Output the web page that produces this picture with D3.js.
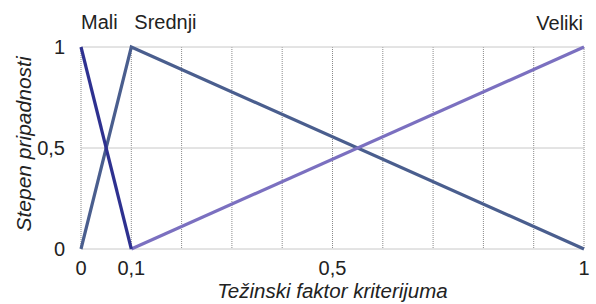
<!DOCTYPE html>
<html>
<head>
<meta charset="utf-8">
<script src="https://cdn.jsdelivr.net/npm/d3@7"></script>
<style>
  body { margin: 0; background: #fff; }
  text { font-family: "Liberation Sans", Arial, sans-serif; fill: #222; }
</style>
</head>
<body>
<div id="chart"></div>
<script>
// membership functions: Mali, Srednji, Veliki
const mali    = [{x: 0, y: 1}, {x: 0.1, y: 0}];
const srednji = [{x: 0, y: 0}, {x: 0.1, y: 1}, {x: 1, y: 0}];
const veliki  = [{x: 0.1, y: 0}, {x: 1, y: 1}];

const xTicks = [0, 0.1, 0.5, 1];
const yTicks = [0, 0.5, 1];
const gridX  = d3.range(0, 11).map(i => i / 10);

const outerW = 596, outerH = 304;
const margin = { left: 81, right: 12, top: 47, bottom: 55 };
const width  = outerW - margin.left - margin.right;
const height = outerH - margin.top - margin.bottom;

const svg = d3.select("#chart").append("svg")
  .attr("width", outerW).attr("height", outerH);

const g = svg.append("g").attr("transform", `translate(${margin.left},${margin.top})`);

const x = d3.scaleLinear().domain([0, 1]).range([0, width]);
const y = d3.scaleLinear().domain([0, 1]).range([height, 0]);

const fmt = d => String(d).replace(".", ",");

// grid
g.selectAll("line.gx").data(gridX).join("line")
  .attr("x1", d => x(d)).attr("x2", d => x(d))
  .attr("y1", 0).attr("y2", height)
  .attr("stroke", "#8a8a8a").attr("stroke-width", 1)
  .attr("stroke-dasharray", "1,1");

g.selectAll("line.gy").data(yTicks).join("line")
  .attr("x1", 0).attr("x2", width)
  .attr("y1", d => y(d)).attr("y2", d => y(d))
  .attr("stroke", "#c8c8c8").attr("stroke-width", 1);

// axis tick labels
g.selectAll("text.yt").data(yTicks).join("text")
  .attr("x", -16).attr("y", d => y(d) + 7)
  .attr("text-anchor", "end")
  .style("font-size", "20px")
  .text(fmt);

g.selectAll("text.xt").data(xTicks).join("text")
  .attr("x", d => x(d)).attr("y", height + 26)
  .attr("text-anchor", "middle")
  .style("font-size", "20px")
  .text(fmt);

// axis titles
g.append("text")
  .attr("x", width / 2).attr("y", height + 49)
  .attr("text-anchor", "middle")
  .style("font-size", "20.5px").style("font-style", "italic")
  .text("Težinski faktor kriterijuma");

g.append("text")
  .attr("transform", "rotate(-90)")
  .attr("x", -height / 2 + 4).attr("y", -50)
  .attr("text-anchor", "middle")
  .style("font-size", "21px").style("font-style", "italic")
  .text("Stepen pripadnosti");

// lines
const line = d3.line().x(d => x(d.x)).y(d => y(d.y));
const series = [
  { name: "Srednji", values: srednji, color: "#4a5e8e" },
  { name: "Veliki",  values: veliki,  color: "#7b70c0" },
  { name: "Mali",    values: mali,    color: "#2e3190" }
];

g.selectAll("path.series").data(series).join("path")
  .attr("fill", "none")
  .attr("stroke", d => d.color)
  .attr("stroke-width", 3.2)
  .attr("d", d => line(d.values));

// series labels
g.append("text").attr("x", x(0)).attr("y", -18)
  .style("font-size", "20px").text("Mali");
g.append("text").attr("x", x(0.1) + 3).attr("y", -18)
  .style("font-size", "20px").text("Srednji");
g.append("text").attr("x", x(1) - 1).attr("y", -17)
  .attr("text-anchor", "end")
  .style("font-size", "20px").text("Veliki");
</script>
</body>
</html>
